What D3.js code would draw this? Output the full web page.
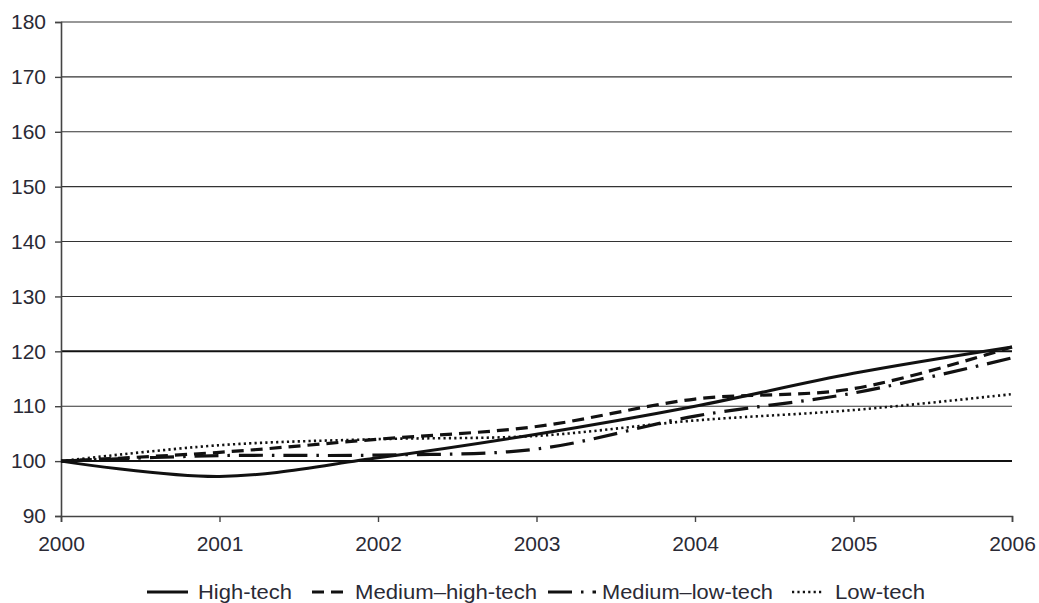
<!DOCTYPE html>
<html><head><meta charset="utf-8">
<script src="https://cdn.jsdelivr.net/npm/d3@7/dist/d3.min.js"></script>
<style>body{margin:0;background:#fff}svg{display:block}text{font-family:"Liberation Sans",Arial,sans-serif}</style>
</head><body><svg id="c" width="1039" height="603"></svg>
<script>
const years = [2000, 2001, 2002, 2003, 2004, 2005, 2006];
const yTicks = [90, 100, 110, 120, 130, 140, 150, 160, 170, 180];
const boldTicks = [100, 120];
const highTech = [100, 97.2, 100.6, 104.9, 110.0, 116.0, 120.8];
const mediumHighTech = [100, 101.6, 104.0, 106.3, 111.3, 113.2, 120.8];
const mediumLowTech = [100, 101.0, 101.1, 102.2, 108.2, 112.4, 118.8];
const lowTech = [100, 102.9, 104.0, 104.6, 107.4, 109.3, 112.2];
const seriesNames = ["High-tech", "Medium\u2013high-tech", "Medium\u2013low-tech", "Low-tech"];

const svg = d3.select("#c");
const x = d3.scaleLinear().domain([2000, 2006]).range([61, 1012]);
const y = d3.scaleLinear().domain([90, 180]).range([516, 22]);
const FS = 21;

// gridlines
svg.append("g").selectAll("line").data(yTicks.filter(t => t !== 90)).join("line")
  .attr("x1", 61).attr("x2", 1012)
  .attr("y1", d => y(d)).attr("y2", d => y(d))
  .attr("stroke", d => boldTicks.includes(d) ? "#111" : "#333")
  .attr("stroke-width", d => boldTicks.includes(d) ? 2 : 1.1);

// y axis
const ya = svg.append("g").attr("transform", "translate(61,0)")
  .call(d3.axisLeft(y).tickValues(yTicks).tickSize(6).tickPadding(9));
ya.select(".domain").attr("stroke", "#444").attr("stroke-width", 1.6);
ya.selectAll(".tick line").attr("stroke", "#444").attr("stroke-width", 1.4);
ya.selectAll(".tick text").attr("font-size", FS).attr("fill", "#2a2a35")
  .attr("font-family", "Liberation Sans, Arial, sans-serif");

// x axis
const xa = svg.append("g").attr("transform", "translate(0,516)")
  .call(d3.axisBottom(x).tickValues(years).tickFormat(d3.format("d")).tickSize(6).tickPadding(14));
xa.select(".domain").attr("stroke", "#444").attr("stroke-width", 1.6);
xa.selectAll(".tick line").attr("stroke", "#444").attr("stroke-width", 1.4);
xa.selectAll(".tick text").attr("font-size", FS).attr("fill", "#2a2a35")
  .attr("font-family", "Liberation Sans, Arial, sans-serif");

const styles = [
  {data: highTech, dash: null, w: 3},
  {data: mediumHighTech, dash: "12,7", w: 3.2},
  {data: mediumLowTech, dash: "24,9,2.5,9", w: 3.2},
  {data: lowTech, dash: "2.2,3.2", w: 2.6}
];
const line = d3.line().x((d, i) => x(years[i])).y(d => y(d)).curve(d3.curveCatmullRom.alpha(0.5));
svg.append("g").selectAll("path").data(styles).join("path")
  .attr("d", s => line(s.data))
  .attr("fill", "none").attr("stroke", "#111")
  .attr("stroke-width", s => s.w)
  .attr("stroke-dasharray", s => s.dash);

// legend
const leg = [
  {x1: 147, x2: 188, tx: 198, tw: 94, dash: null, w: 3},
  {x1: 312, x2: 346, tx: 355, tw: 182, dash: "12,7", w: 3.2},
  {x1: 548, x2: 596, tx: 602, tw: 171, dash: "24,9,2.5,9", w: 3.2},
  {x1: 792, x2: 824, tx: 835, tw: 90, dash: "2.2,3.2", w: 2.6}
];
const lg = svg.append("g");
leg.forEach((l, i) => {
  lg.append("line").attr("x1", l.x1).attr("x2", l.x2).attr("y1", 592).attr("y2", 592)
    .attr("stroke", "#111").attr("stroke-width", l.w).attr("stroke-dasharray", l.dash);
  lg.append("text").attr("x", l.tx).attr("y", 599).attr("font-size", FS)
    .attr("fill", "#2a2a35").attr("textLength", l.tw).attr("lengthAdjust", "spacingAndGlyphs")
    .text(seriesNames[i]);
});
</script></body></html>
